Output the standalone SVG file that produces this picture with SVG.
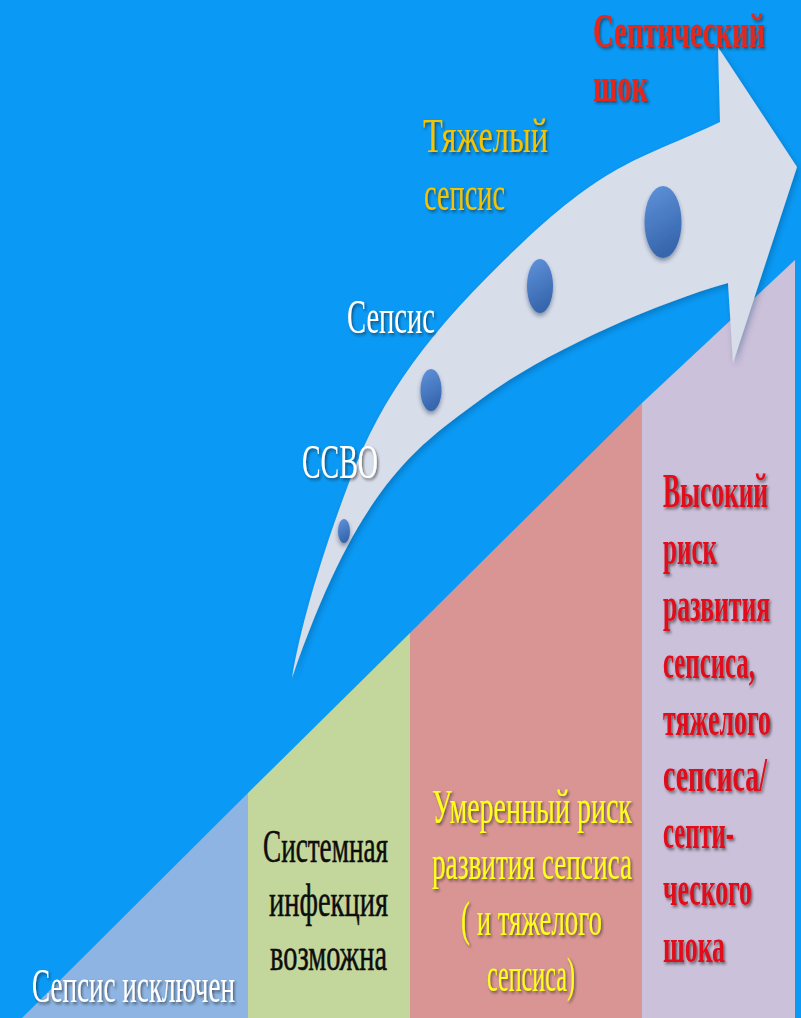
<svg xmlns="http://www.w3.org/2000/svg" width="801" height="1018" viewBox="0 0 801 1018">
<defs>
<style>
text{font-family:"Liberation Serif","DejaVu Serif",serif;}
.wt{fill:#FFFFFF;font-size:28px;filter:url(#ts);}
.yl{fill:#FFFF1A;font-size:28px;filter:url(#ts);}
.gd{fill:#F5C300;font-size:28px;filter:url(#ts);}
.rd{fill:#E4281C;font-size:28px;font-weight:bold;filter:url(#ts);}
.rc{fill:#E1081A;font-size:28px;font-weight:bold;filter:url(#ts);}
.bk{fill:#0D0D0D;font-size:28px;stroke:#0D0D0D;stroke-width:0.35px;}
.dot{fill:url(#dg);filter:url(#ds);}
</style>
<filter id="ts" x="-10%" y="-30%" width="130%" height="170%">
<feDropShadow dx="1.5" dy="1.2" stdDeviation="0.9" flood-color="#1a1a1a" flood-opacity="0.6"/>
</filter>
<filter id="ds" x="-50%" y="-30%" width="200%" height="170%">
<feDropShadow dx="0" dy="3" stdDeviation="2" flood-color="#1a2a50" flood-opacity="0.45"/>
</filter>
<filter id="as" x="-10%" y="-10%" width="130%" height="130%">
<feDropShadow dx="2" dy="3" stdDeviation="3" flood-color="#0a3a70" flood-opacity="0.35"/>
</filter>
<linearGradient id="dg" x1="0" y1="0" x2="0.3" y2="1">
<stop offset="0" stop-color="#5F93DB"/>
<stop offset="1" stop-color="#3766AD"/>
</linearGradient>
</defs>

<rect id="background" x="0" y="0" width="801" height="1018" fill="#0A9AF5"/>

<g id="col-excluded">
<polygon points="22,1018 248,793 248,1018" fill="#8DB4E2"/>
<text class="wt" transform="translate(32,1002) scale(1,1.72)" textLength="203" lengthAdjust="spacingAndGlyphs">Сепсис исключен</text>
</g>

<g id="col-possible">
<polygon points="248,793 410,633 410,1018 248,1018" fill="#C3D69B"/>
<text class="bk" transform="translate(263,862) scale(1,1.66)" textLength="125" lengthAdjust="spacingAndGlyphs">Системная</text>
<text class="bk" transform="translate(269,916) scale(1,1.66)" textLength="119" lengthAdjust="spacingAndGlyphs">инфекция</text>
<text class="bk" transform="translate(270,970) scale(1,1.66)" textLength="117" lengthAdjust="spacingAndGlyphs">возможна</text>
</g>

<g id="col-moderate">
<polygon points="410,633 642,403 642,1018 410,1018" fill="#D99594"/>
<text class="yl" transform="translate(432,823) scale(1,1.7)" textLength="200" lengthAdjust="spacingAndGlyphs">Умеренный риск</text>
<text class="yl" transform="translate(432,879) scale(1,1.7)" textLength="200" lengthAdjust="spacingAndGlyphs">развития сепсиса</text>
<text class="yl" transform="translate(461,935) scale(1,1.7)" textLength="141" lengthAdjust="spacingAndGlyphs">( и тяжелого</text>
<text class="yl" transform="translate(487,991) scale(1,1.7)" textLength="88" lengthAdjust="spacingAndGlyphs">сепсиса)</text>
</g>

<g id="col-high">
<polygon points="642,403 795,260 795,1018 642,1018" fill="#CCC1DA"/>
<text class="rc" transform="translate(663,507) scale(1,1.75)" textLength="105" lengthAdjust="spacingAndGlyphs">Высокий</text>
<text class="rc" transform="translate(663,564) scale(1,1.75)" textLength="54" lengthAdjust="spacingAndGlyphs">риск</text>
<text class="rc" transform="translate(663,621) scale(1,1.75)" textLength="107" lengthAdjust="spacingAndGlyphs">развития</text>
<text class="rc" transform="translate(663,678) scale(1,1.75)" textLength="92" lengthAdjust="spacingAndGlyphs">сепсиса,</text>
<text class="rc" transform="translate(663,735) scale(1,1.75)" textLength="108" lengthAdjust="spacingAndGlyphs">тяжелого</text>
<text class="rc" transform="translate(663,791) scale(1,1.75)" textLength="104" lengthAdjust="spacingAndGlyphs">сепсиса/</text>
<text class="rc" transform="translate(663,848) scale(1,1.75)" textLength="71" lengthAdjust="spacingAndGlyphs">септи-</text>
<text class="rc" transform="translate(663,905) scale(1,1.75)" textLength="89" lengthAdjust="spacingAndGlyphs">ческого</text>
<text class="rc" transform="translate(663,962) scale(1,1.75)" textLength="62" lengthAdjust="spacingAndGlyphs">шока</text>
</g>

<g id="connectors">
<path id="progress-arrow" d="M292,678 C300,630 318,565 350,480 S430,330 520,245 S640,160 720,122 L718,47 L797,167 L733,363 L728,283 C650,305 540,355 480,400 C420,445 360,480 292,678 Z" fill="#D8DDEA" filter="url(#as)"/>
</g>

<g id="stage-ssvo">
<ellipse class="dot" cx="344" cy="531" rx="6" ry="12"/>
<text class="wt" transform="translate(302,478) scale(1,1.72)" textLength="76" lengthAdjust="spacingAndGlyphs">ССВО</text>
</g>

<g id="stage-sepsis">
<ellipse class="dot" cx="431" cy="390" rx="10.5" ry="21"/>
<text class="wt" transform="translate(347,333) scale(1,1.72)" textLength="88" lengthAdjust="spacingAndGlyphs">Сепсис</text>
</g>

<g id="stage-severe">
<ellipse class="dot" cx="540" cy="286" rx="13" ry="27"/>
<text class="gd" transform="translate(423,152) scale(1,1.75)" textLength="125" lengthAdjust="spacingAndGlyphs">Тяжелый</text>
<text class="gd" transform="translate(424,210) scale(1,1.75)" textLength="81" lengthAdjust="spacingAndGlyphs">сепсис</text>
</g>

<g id="stage-shock">
<ellipse class="dot" cx="663" cy="222" rx="18.5" ry="36"/>
<text class="rd" transform="translate(593,47) scale(1,1.75)" textLength="172" lengthAdjust="spacingAndGlyphs">Септический</text>
<text class="rd" transform="translate(593,101) scale(1,1.75)" textLength="55" lengthAdjust="spacingAndGlyphs">шок</text>
</g>
</svg>
